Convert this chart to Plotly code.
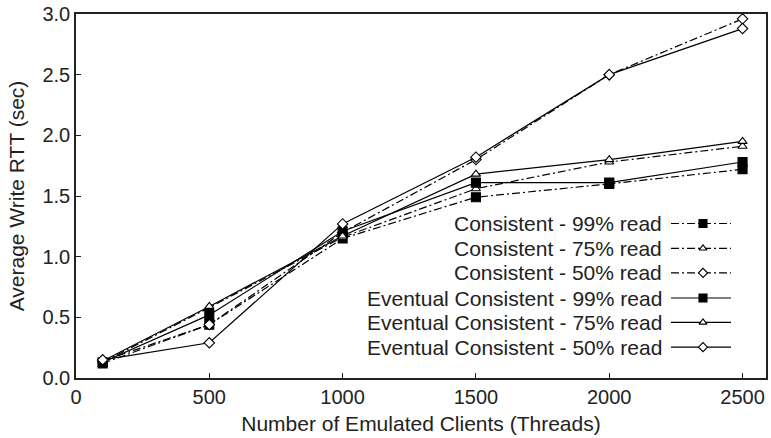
import plotly.graph_objects as go

threads = [100, 500, 1000, 1500, 2000, 2500]

cons_99 = [0.12, 0.44, 1.15, 1.49, 1.60, 1.72]
cons_75 = [0.13, 0.58, 1.16, 1.56, 1.78, 1.91]
cons_50 = [0.14, 0.44, 1.20, 1.80, 2.50, 2.96]
ev_99 = [0.13, 0.52, 1.21, 1.61, 1.61, 1.78]
ev_75 = [0.14, 0.59, 1.17, 1.68, 1.80, 1.95]
ev_50 = [0.15, 0.29, 1.27, 1.82, 2.50, 2.88]

names = [
    "Consistent - 99% read",
    "Consistent - 75% read",
    "Consistent - 50% read",
    "Eventual Consistent - 99% read",
    "Eventual Consistent - 75% read",
    "Eventual Consistent - 50% read",
]
series = [cons_99, cons_75, cons_50, ev_99, ev_75, ev_50]

DASHDOT = "8px,3px,2px,3px"
styles = [
    dict(dash=DASHDOT, symbol="square", fill="black", size=9),
    dict(dash=DASHDOT, symbol="triangle-up", fill="white", size=8),
    dict(dash=DASHDOT, symbol="diamond", fill="white", size=8),
    dict(dash="solid", symbol="square", fill="black", size=9),
    dict(dash="solid", symbol="triangle-up", fill="white", size=8),
    dict(dash="solid", symbol="diamond", fill="white", size=8),
]

FONT = "Liberation Sans, Arial, Helvetica, sans-serif"
INK = "#222222"
TXT = 21
TICK = 20

PAGE_W, PAGE_H = 771, 438
plot_top, plot_bot = 14, 378
plot_left, plot_right = 76, 766
W = plot_right - plot_left
H = plot_bot - plot_top

fig = go.Figure()
for name, ys, st in zip(names, series, styles):
    fig.add_trace(go.Scatter(
        x=threads, y=ys, name=name, mode="lines+markers",
        line=dict(color="black", width=1.2, dash=st["dash"]),
        marker=dict(symbol=st["symbol"], size=st["size"], color=st["fill"],
                    line=dict(color="black", width=1.1)),
        showlegend=False,
    ))

# custom legend (symbol at right of text), drawn on an overlay axis 0..1
leg_y_px = [223.5, 248.3, 272.8, 298, 322.4, 347.2]
lx0 = (671 - plot_left) / W
lx1 = (731 - plot_left) / W
lxm = (703 - plot_left) / W
tx = (664 - plot_left) / W
for name, st, ypx in zip(names, styles, leg_y_px):
    yy = (plot_bot - ypx) / H
    fig.add_trace(go.Scatter(
        x=[lx0, lx1], y=[yy, yy], mode="lines", xaxis="x2", yaxis="y2",
        line=dict(color="black", width=1.2, dash=st["dash"]),
        showlegend=False, hoverinfo="skip"))
    fig.add_trace(go.Scatter(
        x=[lxm], y=[yy], mode="markers", xaxis="x2", yaxis="y2",
        marker=dict(symbol=st["symbol"], size=st["size"] - 1, color=st["fill"],
                    line=dict(color="black", width=1.1)),
        showlegend=False, hoverinfo="skip"))
    fig.add_annotation(x=tx, y=yy, xref="x2", yref="y2", text=name,
                       showarrow=False, xanchor="right", yanchor="middle",
                       font=dict(size=TXT, color=INK, family=FONT))

fig.update_layout(
    width=PAGE_W, height=PAGE_H,
    margin=dict(l=plot_left, r=PAGE_W - plot_right, t=plot_top,
                b=PAGE_H - plot_bot, pad=0),
    paper_bgcolor="white", plot_bgcolor="white",
    font=dict(family=FONT, size=TICK, color=INK),
    showlegend=False,
    xaxis=dict(range=[0, 2588], tickvals=[0, 500, 1000, 1500, 2000, 2500],
               ticks="inside", ticklen=5, tickcolor="#222", tickwidth=1,
               showline=True, linecolor="#222", linewidth=1.5, mirror=True,
               showgrid=False, zeroline=False, automargin=False,
               title=dict(text="Number of Emulated Clients (Threads)", standoff=10,
                          font=dict(size=TXT)),
               tickfont=dict(size=TICK)),
    yaxis=dict(range=[0, 3.0], tickvals=[0, 0.5, 1.0, 1.5, 2.0, 2.5, 3.0],
               tickformat=".1f",
               ticks="inside", ticklen=5, tickcolor="#222", tickwidth=1,
               showline=True, linecolor="#222", linewidth=1.5, mirror=True,
               showgrid=False, zeroline=False, automargin=False,
               title=dict(text="Average Write RTT (sec)", standoff=12,
                          font=dict(size=TXT)),
               tickfont=dict(size=TICK)),
    xaxis2=dict(range=[0, 1], overlaying="x", visible=False, fixedrange=True),
    yaxis2=dict(range=[0, 1], overlaying="y", visible=False, fixedrange=True),
)

fig.write_html("out.html",
               config={"displayModeBar": False},
               post_script="document.body.style.margin='0';document.body.style.padding='0';")
